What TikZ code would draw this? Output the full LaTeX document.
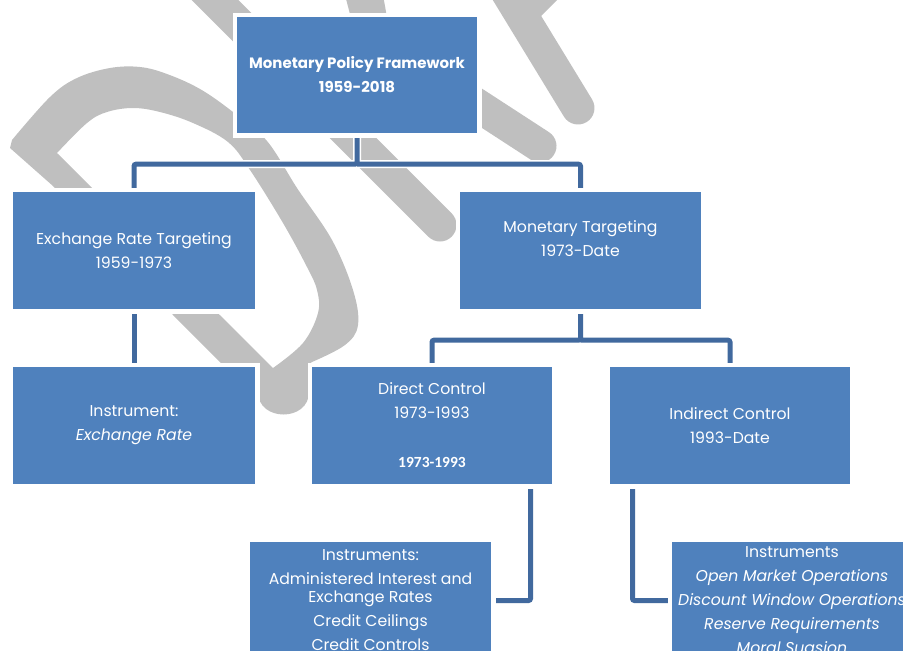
\documentclass[tikz,border=0pt]{standalone}
\usepackage{fontspec}
\setmainfont{Poppins}
\newfontfamily\calib{Carlito}
\definecolor{boxblue}{HTML}{4F81BD}
\definecolor{linkblue}{HTML}{41699E}
\definecolor{wm}{HTML}{BFBFBF}
\pgfdeclarelayer{wmlayer}
\pgfdeclarelayer{linklayer}
\pgfsetlayers{wmlayer,linklayer,main}
\begin{document}
\begin{tikzpicture}[x=1pt,y=-1pt,
  box/.style={rectangle, fill=boxblue, text=white, inner sep=0pt, align=center,
    preaction={draw=white, line width=9pt},
    font=\fontsize{15.7}{18}\selectfont},
  link/.style={draw=linkblue, line width=5pt, rounded corners=2pt,
    preaction={draw=white, line width=8pt}},
  wmband/.style={draw=wm, line width=33pt, line cap=round}]
\useasboundingbox (0,0) rectangle (903,651);
\clip (0,0) rectangle (903,651);

% watermark shapes
\begin{pgfonlayer}{wmlayer}
\clip (0,0) rectangle (903,651);
\fill[wm, even odd rule]
  plot[smooth, tension=0.6] coordinates {(12,140) (50,97) (77,78) (110,68) (140,67) (167,74) (200,89) (233,112) (267,141) (297,188) (332,240) (353,290) (358,325) (345,345) (312,362)}
  -- (309,364) -- (309,392) .. controls (309,422) and (258,422) .. (258,392)
  -- (250,392) -- (173,315) -- (53,186) -- (10,148) -- cycle
  plot[smooth, tension=0.6] coordinates {(273,368) (303,343) (318,313) (317,290) (307,267) (283,223) (250,170) (228,142) (193,123) (160,112) (133,108) (107,112) (87,123) (57,153)} -- cycle;
\draw[wmband] (190,-25) -- (440,225);
\fill[wm] (345,-5) -- (383,-5) -- (392,45) -- (358,45) -- cycle;
\draw[wmband] (506,-10) -- (578,108);
\fill[wm] (530,-5) -- (562,-5) -- (541,16) -- (528,10) -- cycle;
\draw[wmband] (420,68) -- (540,146);
\end{pgfonlayer}

% boxes
\node[box, minimum width=240pt, minimum height=116pt, font=\fontsize{15}{18}\selectfont\bfseries] (top) at (357,75)
  {Monetary Policy Framework\\[6pt]1959-2018};
\node[box, minimum width=242pt, minimum height=117pt] (ert) at (134,250.5)
  {Exchange Rate Targeting\\[6pt]1959-1973};
\node[box, minimum width=241pt, minimum height=117pt] (mt) at (580.5,250.5)
  {Monetary Targeting\\[6pt]1973-Date\\[6pt]\mbox{}};
\node[box, minimum width=242pt, minimum height=117pt] (ins) at (134,425.5)
  {Instrument:\\[6pt]\textit{Exchange Rate}};
\node[box, minimum width=240pt, minimum height=117pt] (dc) at (432,425.5)
  {Direct Control\\[6pt]1973-1993\\[6pt]\mbox{}\\[7pt]{\calib\bfseries\fontsize{15.5}{18}\selectfont 1973-1993}};
\node[box, minimum width=240pt, minimum height=117pt] (ic) at (730,425.5)
  {Indirect Control\\[6pt]1993-Date};
\node[box, minimum width=241pt, inner ysep=7.7pt, text depth=20pt, anchor=north] (instl) at (370.5,542)
  {Instruments:\\[6pt]Administered Interest and\\Exchange Rates\\[6pt]Credit Ceilings\\[6pt]Credit Controls};
\node[box, minimum width=240pt, inner ysep=4.7pt, text depth=20pt, anchor=north] (instr) at (792,542)
  {Instruments\\[6pt]\textit{Open Market Operations}\\[6pt]\textit{Discount Window Operations}\\[6pt]\textit{Reserve Requirements}\\[6pt]\textit{Moral Suasion}};

% connectors
\begin{pgfonlayer}{linklayer}
\clip (0,0) rectangle (903,651);
\coordinate (j1) at ([yshift=-31pt]top.south);
\draw[link] (top.south) -- (j1) -| (ert.north) (j1) -| (mt.north);
\draw[link] (ert.south) -- (ins.north);
\coordinate (j2) at ([yshift=-31pt]mt.south);
\draw[link] (mt.south) -- (j2) -| (dc.north) (j2) -| (ic.north);
\draw[link] ([xshift=98.5pt]dc.south) |- ([yshift=-58.5pt]instl.north east);
\draw[link] ([xshift=-97.5pt]ic.south) |- ([yshift=-58.5pt]instr.north west);
\end{pgfonlayer}
\end{tikzpicture}
\end{document}
